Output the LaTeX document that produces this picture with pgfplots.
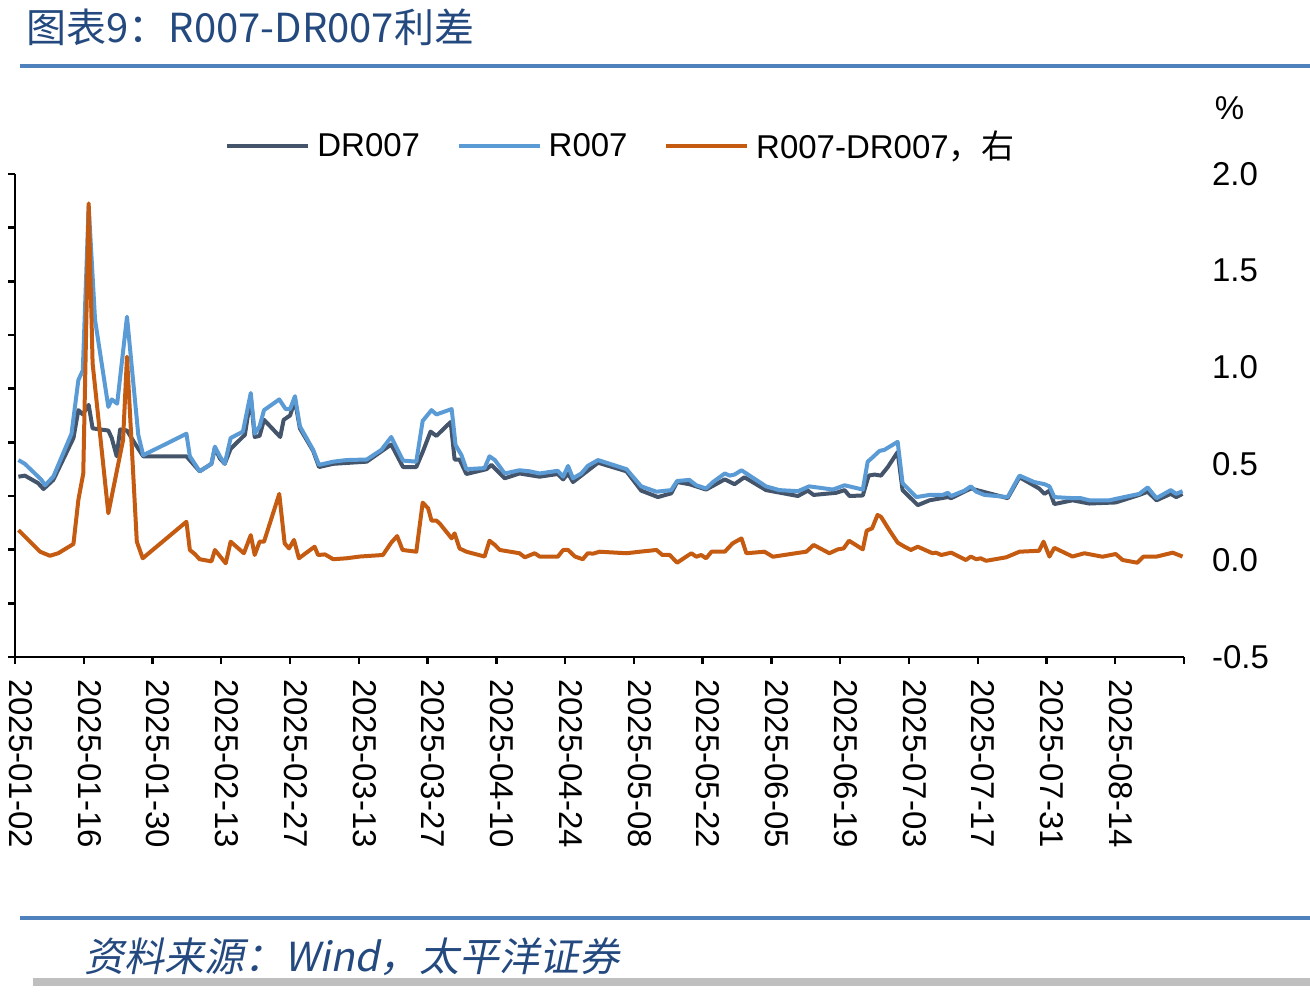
\documentclass[border=0pt]{standalone}
\usepackage{pgfplots}
\pgfplotsset{compat=1.18}
\usepackage{fontspec}
\setmainfont{Liberation Sans}
\newfontfamily\cjk{Noto Sans CJK SC}
\newfontfamily\cjkit[FakeSlant=0.2]{Noto Sans CJK SC}
\definecolor{drc}{HTML}{44546A}
\definecolor{rc}{HTML}{5B9BD5}
\definecolor{spc}{HTML}{C55A11}
\definecolor{titc}{HTML}{24497F}
\definecolor{linec}{HTML}{4F81BD}
\newcommand\axfont{\fontsize{16.5}{19.8}\selectfont}

\pgfplotstableread{
d v
0.7 1.68
2.0 1.69
4.7 1.62
5.8 1.565
7.8 1.65
11.9 2.04
12.9 2.30
13.8 2.26
15.0 2.35
15.8 2.13
19.0 2.11
19.7 2.04
20.7 1.87
21.4 2.12
22.8 2.11
24.4 1.99
26.1 1.87
34.9 1.87
37.6 1.73
40.0 1.80
40.7 1.95
41.7 1.85
42.7 1.80
43.9 1.94
46.8 2.07
48.0 2.42
48.8 2.05
49.8 2.06
50.7 2.21
54.0 2.05
54.7 2.21
56.0 2.25
57.0 2.39
58.0 2.13
60.7 1.92
61.9 1.77
64.8 1.80
71.6 1.82
76.6 1.98
79.0 1.77
81.7 1.77
83.0 1.91
84.6 2.10
85.8 2.06
88.7 2.19
89.5 1.84
90.5 1.84
91.9 1.705
96.0 1.75
97.0 1.79
99.7 1.665
102.7 1.71
106.8 1.68
110.5 1.705
111.6 1.655
112.6 1.71
113.6 1.63
118.7 1.81
124.5 1.73
127.5 1.55
130.9 1.49
133.6 1.525
134.8 1.63
137.3 1.61
140.7 1.56
144.5 1.655
146.5 1.61
148.5 1.675
152.9 1.555
159.4 1.50
161.4 1.55
162.6 1.51
167.2 1.53
168.9 1.555
169.9 1.50
172.6 1.505
173.8 1.69
175.0 1.70
176.3 1.69
177.7 1.77
179.7 1.91
180.7 1.555
183.8 1.415
186.2 1.46
189.9 1.49
190.6 1.48
194.6 1.57
202.1 1.48
204.5 1.675
208.5 1.57
209.6 1.52
210.6 1.55
211.6 1.425
215.3 1.46
218.7 1.43
224.1 1.44
228.9 1.51
230.6 1.54
232.4 1.46
235.3 1.52
236.4 1.49
237.7 1.52
}\drtable

\pgfplotstableread{
d v
0.7 1.835
2.0 1.80
5.4 1.65
6.1 1.60
7.8 1.68
11.5 2.08
12.9 2.58
13.8 2.67
15.0 4.20
16.3 3.14
19.0 2.33
19.7 2.40
20.8 2.36
22.8 3.17
25.1 2.07
26.1 1.88
34.9 2.08
35.6 1.87
37.6 1.73
40.0 1.80
40.7 1.96
41.7 1.87
42.7 1.80
43.9 2.04
46.4 2.10
48.0 2.46
48.8 2.08
49.8 2.15
50.7 2.30
53.8 2.40
55.1 2.31
56.0 2.31
57.0 2.43
58.0 2.15
60.7 1.93
61.9 1.79
64.8 1.82
67.5 1.835
71.6 1.84
74.6 1.93
76.6 2.05
79.0 1.83
81.7 1.82
83.0 2.20
84.8 2.30
85.8 2.26
88.9 2.31
89.7 1.975
90.9 1.88
91.9 1.75
95.6 1.76
96.6 1.87
97.7 1.835
99.7 1.71
102.7 1.74
104.8 1.73
106.8 1.71
110.5 1.735
111.6 1.68
112.6 1.78
113.6 1.665
115.3 1.71
116.6 1.78
118.7 1.835
124.5 1.75
125.8 1.68
127.5 1.59
130.6 1.54
133.6 1.555
134.8 1.64
137.3 1.65
138.7 1.60
140.7 1.57
142.1 1.63
144.5 1.71
145.5 1.69
146.5 1.70
147.9 1.74
152.9 1.59
155.6 1.555
159.4 1.545
161.7 1.59
166.5 1.56
168.9 1.60
172.6 1.56
173.6 1.82
174.6 1.86
176.0 1.92
177.0 1.93
179.7 2.005
180.7 1.62
183.5 1.49
186.2 1.51
188.9 1.51
189.9 1.53
190.6 1.50
193.3 1.55
194.6 1.59
195.7 1.54
197.4 1.51
202.1 1.49
204.5 1.69
207.5 1.63
209.6 1.61
210.6 1.59
211.6 1.49
215.3 1.48
217.0 1.48
218.7 1.46
222.8 1.46
224.8 1.48
228.9 1.52
230.6 1.58
232.4 1.48
235.3 1.555
236.4 1.52
237.7 1.545
}\rtable

\pgfplotstableread{
d v
0.7 0.157
5.1 0.045
7.1 0.024
8.8 0.037
11.9 0.085
12.9 0.313
13.9 0.45
15.0 1.848
15.8 1.02
19.0 0.244
22.0 0.623
22.8 1.054
24.8 0.097
26.0 0.011
34.9 0.20
35.6 0.054
36.6 0.033
37.6 0.006
40.0 -0.005
40.7 0.054
42.9 -0.015
43.9 0.097
46.6 0.037
48.0 0.131
48.8 0.028
49.8 0.097
50.7 0.097
53.8 0.344
54.9 0.088
55.8 0.062
56.8 0.106
57.8 0.011
61.0 0.071
61.7 0.028
63.1 0.031
64.8 0.006
67.5 0.011
70.2 0.020
74.9 0.028
76.6 0.092
77.8 0.126
78.9 0.054
81.7 0.045
83.0 0.299
84.1 0.270
84.8 0.206
85.8 0.206
86.5 0.190
88.9 0.114
89.5 0.140
90.5 0.062
91.9 0.045
95.6 0.020
96.6 0.102
97.7 0.080
98.7 0.054
102.7 0.037
103.8 0.016
105.8 0.037
106.8 0.020
110.5 0.019
111.6 0.054
112.6 0.054
114.0 0.020
115.6 0.006
116.6 0.037
117.7 0.035
119.0 0.045
124.5 0.037
127.2 0.045
130.6 0.054
131.8 0.028
133.3 0.028
134.8 -0.012
137.7 0.037
138.7 0.019
139.7 0.028
140.7 0.011
141.8 0.045
144.5 0.045
146.1 0.088
147.9 0.114
148.9 0.037
152.6 0.045
154.3 0.019
159.7 0.040
161.1 0.045
162.6 0.080
165.8 0.037
167.5 0.057
168.7 0.062
169.8 0.102
172.6 0.057
173.4 0.154
174.5 0.166
175.6 0.235
176.3 0.226
178.0 0.157
179.7 0.092
181.1 0.071
182.4 0.054
183.8 0.071
186.8 0.037
187.5 0.040
188.6 0.028
190.6 0.040
193.6 0.002
194.6 0.020
195.7 0.006
196.6 0.011
197.7 -0.002
201.8 0.016
204.5 0.045
208.5 0.050
209.4 0.097
210.6 0.020
211.6 0.065
215.3 0.020
217.7 0.037
221.4 0.019
224.1 0.033
225.5 0.002
228.5 -0.012
229.7 0.019
232.3 0.019
235.7 0.040
237.7 0.020
}\sptable

\begin{document}
\begin{tikzpicture}
\useasboundingbox (0,0) rectangle (655pt,496pt);
% title and rules
\node[anchor=west, text=titc, font=\cjk\fontsize{20}{24}\selectfont, inner sep=0pt] at (13pt,482.5pt) {图表9：R007-DR007利差};
\draw[linec, line width=2pt] (10pt,463pt) -- (655pt,463pt);
\draw[linec, line width=2pt] (10pt,37pt) -- (655pt,37pt);
\node[anchor=west, text=titc, font=\cjkit\fontsize{20}{24}\selectfont, inner sep=0pt] at (42pt,17.5pt) {资料来源：Wind，太平洋证券};
\fill[black!25] (16.5pt,3pt) rectangle (655pt,7pt);

\begin{axis}[
  at={(7.5pt,167.5pt)}, anchor=south west,
  scale only axis, width=584.5pt, height=241.5pt,
  xmin=0, xmax=238, ymin=0, ymax=4.5,
  axis x line*=bottom, axis y line*=left,
  xtick={0,14,...,224,238},
  xticklabels={2025-01-02,2025-01-16,2025-01-30,2025-02-13,2025-02-27,2025-03-13,2025-03-27,2025-04-10,2025-04-24,2025-05-08,2025-05-22,2025-06-05,2025-06-19,2025-07-03,2025-07-17,2025-07-31,2025-08-14,{}},
  xticklabel style={xshift=2.8pt, yshift=-4pt, rotate=-90, anchor=west, font=\axfont},
  ytick={0,0.5,...,4.5}, yticklabels={},
  tick align=outside, major tick length=3.5pt,
  axis line style={line width=1.2pt, black},
  tick style={line width=1.2pt, black},
  every outer x axis line/.append style={-},
  every outer y axis line/.append style={-},
]
\addplot[drc, line width=2pt, line join=round] table[x=d, y=v] {\drtable};
\addplot[rc, line width=2pt, line join=round] table[x=d, y=v] {\rtable};
\end{axis}

\begin{axis}[
  at={(7.5pt,167.5pt)}, anchor=south west,
  scale only axis, width=584.5pt, height=241.5pt,
  xmin=0, xmax=238, ymin=-0.5, ymax=2,
  axis x line=none, axis y line*=right,
  ytick={-0.5,0,...,2},
  y axis line style={draw=none},
  major tick length=0pt,
  yticklabel style={anchor=west, xshift=10.5pt, font=\axfont,
    /pgf/number format/fixed, /pgf/number format/fixed zerofill,
    /pgf/number format/precision=1, /pgf/number format/assume math mode=true},
  clip=false,
  legend columns=3,
  legend cell align=left,
  legend style={draw=none, fill=none, font=\axfont, at={(0.1745,1.058)}, anchor=west,
    /tikz/every even column/.append style={column sep=16.3pt},
    /tikz/every odd column/.append style={column sep=1.5pt}},
  legend image code/.code={\draw[#1] (0pt,0pt) -- (40.5pt,0pt);},
]
\addlegendimage{drc, line width=2pt}
\addlegendentry{DR007}
\addlegendimage{rc, line width=2pt}
\addlegendentry{R007}
\addplot[spc, line width=2pt, line join=round] table[x=d, y=v] {\sptable};
\addlegendentry{R007-DR007{\cjk ，右}}
\node[font=\axfont] at (rel axis cs:1.039,1.137) {\%};
\end{axis}
\end{tikzpicture}
\end{document}
